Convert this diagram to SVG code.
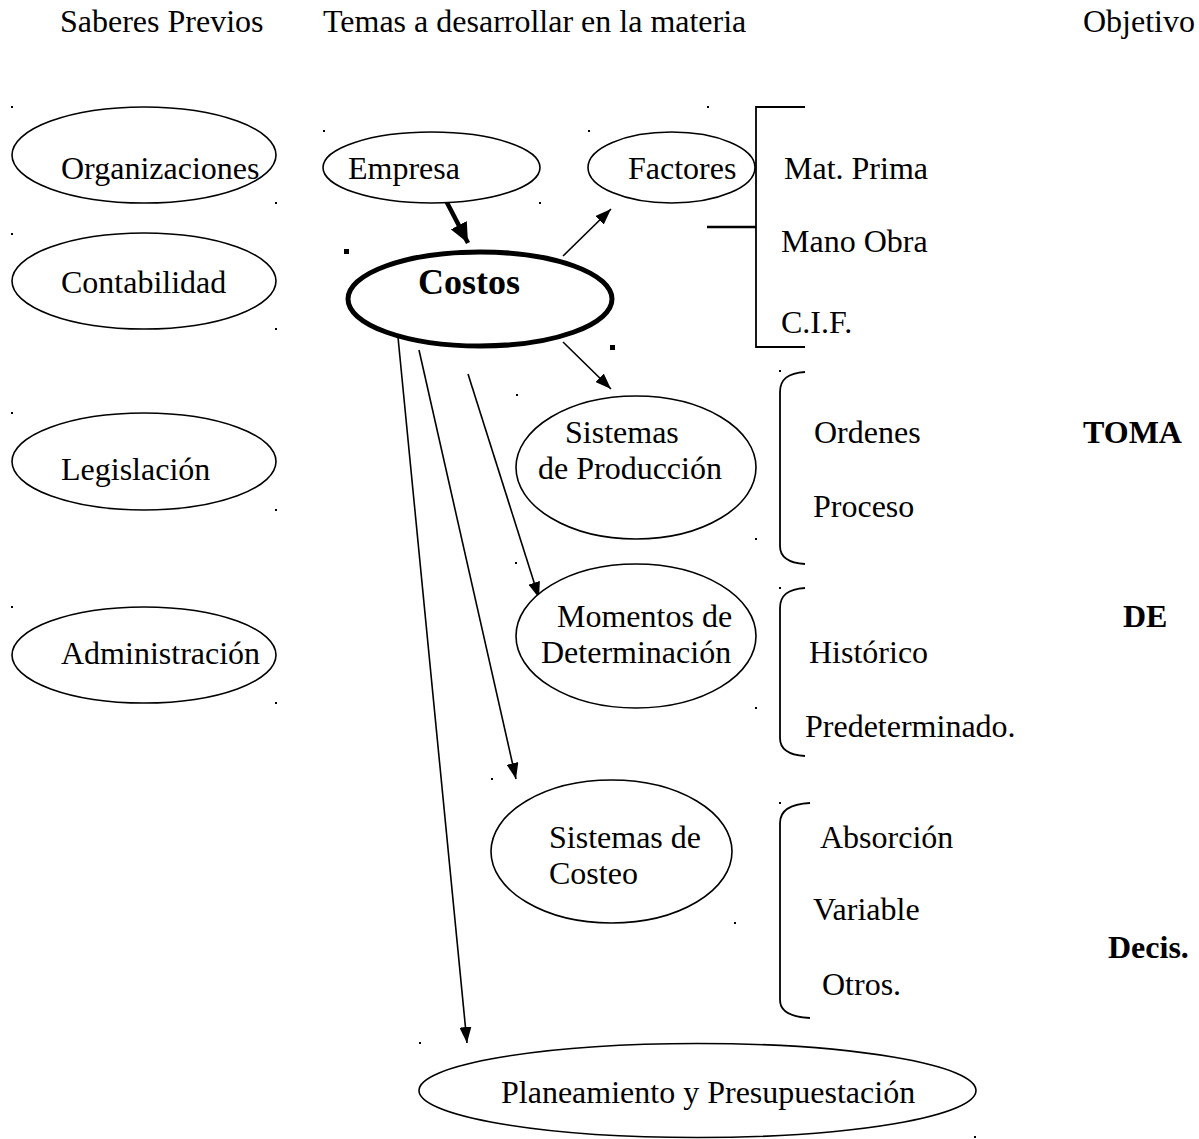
<svg xmlns="http://www.w3.org/2000/svg" width="1199" height="1139" viewBox="0 0 1199 1139">
<style>
text{font-family:"Liberation Serif","Times New Roman",serif;font-size:32px;fill:#000}
.b{font-weight:bold}
.n{fill:#fff;stroke:#000;stroke-width:1.6}
.thick{fill:#fff;stroke:#000;stroke-width:5}
.c{fill:none;stroke:#000;stroke-width:1.6}
.br{fill:none;stroke:#000;stroke-width:1.8}
.dot{fill:#000}
</style>
<defs>
<marker id="ah" markerUnits="userSpaceOnUse" markerWidth="16" markerHeight="12" refX="16" refY="6" orient="auto">
<path d="M0,0 L16,6 L0,12 z" fill="#000"/>
</marker>
<marker id="ahb" markerUnits="userSpaceOnUse" markerWidth="20" markerHeight="18" refX="20" refY="9" orient="auto">
<path d="M0,0 L20,9 L0,18 z" fill="#000"/>
</marker>
</defs>
<rect width="1199" height="1139" fill="#fff"/>

<g id="headers">
<text x="60" y="32">Saberes Previos</text>
<text x="323" y="32">Temas a desarrollar en la materia</text>
<text x="1083" y="32">Objetivo</text>
</g>

<g id="connectors">
<line x1="442" y1="193" x2="468" y2="243" stroke="#000" stroke-width="4.5" marker-end="url(#ahb)"/>
<line class="c" x1="563" y1="256" x2="611" y2="209" marker-end="url(#ah)"/>
<line class="c" x1="563" y1="342" x2="611" y2="389" marker-end="url(#ah)"/>
<line class="c" x1="468" y1="374" x2="539" y2="598" marker-end="url(#ah)"/>
<line class="c" x1="419" y1="350" x2="516" y2="779" marker-end="url(#ah)"/>
<line class="c" x1="397" y1="327" x2="467" y2="1043" marker-end="url(#ah)"/>
</g>

<g id="organizaciones"><ellipse class="n" cx="144" cy="155" rx="132" ry="48"/><text x="61" y="179">Organizaciones</text></g>
<g id="contabilidad"><ellipse class="n" cx="144" cy="281" rx="132" ry="48"/><text x="61" y="293">Contabilidad</text></g>
<g id="legislacion"><ellipse class="n" cx="144" cy="461.5" rx="132" ry="48.5"/><text x="61" y="480">Legislación</text></g>
<g id="administracion"><ellipse class="n" cx="144" cy="655" rx="132" ry="48"/><text x="61" y="664">Administración</text></g>

<g id="empresa"><ellipse class="n" cx="431.5" cy="167.5" rx="108.5" ry="35.5"/><text x="348" y="179">Empresa</text></g>
<g id="factores"><ellipse class="n" cx="671.5" cy="167.5" rx="83.5" ry="35.5"/><text x="628" y="179">Factores</text></g>
<g id="costos"><ellipse class="thick" cx="480" cy="299" rx="132" ry="47"/><text class="b" x="418" y="294" font-size="36" style="font-size:36px">Costos</text></g>
<g id="sist-produccion"><ellipse class="n" cx="636" cy="467.5" rx="120" ry="71.5"/><text x="565" y="443">Sistemas</text><text x="538" y="479">de Producción</text></g>
<g id="momentos"><ellipse class="n" cx="636" cy="636" rx="120" ry="72"/><text x="557" y="627">Momentos de</text><text x="541" y="663">Determinación</text></g>
<g id="sist-costeo"><ellipse class="n" cx="611.5" cy="851.5" rx="120.5" ry="71.5"/><text x="549" y="848">Sistemas de</text><text x="549" y="884">Costeo</text></g>
<g id="planeamiento"><ellipse class="n" cx="697.5" cy="1090.5" rx="278.5" ry="47"/><text x="501" y="1103">Planeamiento y Presupuestación</text></g>

<g id="factores-list">
<path class="br" d="M805,107 H756 V347 H805"/>
<line x1="707" y1="227" x2="756" y2="227" stroke="#000" stroke-width="2.5"/>
<text x="784" y="179">Mat. Prima</text>
<text x="781" y="252">Mano Obra</text>
<text x="781" y="333">C.I.F.</text>
</g>

<g id="produccion-list">
<path class="br" d="M805,372 C788,373 780,379 780,392 V546 C780,557 788,563 805,564"/>
<text x="814" y="443">Ordenes</text>
<text x="813" y="517">Proceso</text>
</g>

<g id="momentos-list">
<path class="br" d="M805,588 C788,589 780,595 780,608 V738 C780,749 788,755 805,756"/>
<text x="809" y="663">Histórico</text>
<text x="805" y="737">Predeterminado.</text>
</g>

<g id="costeo-list">
<path class="br" d="M810,803 C790,804 780,810 780,823 V1000 C780,1011 790,1017 810,1018"/>
<text x="820" y="848">Absorción</text>
<text x="813" y="920">Variable</text>
<text x="822" y="995">Otros.</text>
</g>

<g id="objetivo">
<text class="b" x="1083" y="443">TOMA</text>
<text class="b" x="1123" y="627">DE</text>
<text class="b" x="1108" y="958">Decis.</text>
</g>

<g id="marks">
<rect class="dot" x="11" y="106" width="2" height="2"/>
<rect class="dot" x="275" y="202" width="2" height="2"/>
<rect class="dot" x="11" y="233" width="2" height="2"/>
<rect class="dot" x="275" y="328" width="2" height="2"/>
<rect class="dot" x="11" y="412" width="2" height="2"/>
<rect class="dot" x="275" y="509" width="2" height="2"/>
<rect class="dot" x="11" y="606" width="2" height="2"/>
<rect class="dot" x="275" y="702" width="2" height="2"/>
<rect class="dot" x="323" y="130" width="2" height="2"/>
<rect class="dot" x="539" y="202" width="2" height="2"/>
<rect class="dot" x="588" y="130" width="2" height="2"/>
<rect class="dot" x="707" y="106" width="2" height="2"/>
<rect class="dot" x="516" y="394" width="2" height="2"/>
<rect class="dot" x="755" y="538" width="2" height="2"/>
<rect class="dot" x="515" y="562" width="2" height="2"/>
<rect class="dot" x="755" y="707" width="2" height="2"/>
<rect class="dot" x="779" y="370" width="2" height="2"/>
<rect class="dot" x="779" y="587" width="2" height="2"/>
<rect class="dot" x="491" y="778" width="2" height="2"/>
<rect class="dot" x="734" y="922" width="2" height="2"/>
<rect class="dot" x="779" y="802" width="2" height="2"/>
<rect class="dot" x="419" y="1042" width="2" height="2"/>
<rect class="dot" x="974" y="1136" width="2" height="2"/>
<rect class="dot" x="344" y="249" width="5" height="5"/>
<rect class="dot" x="610" y="345" width="5" height="5"/>
</g>
</svg>
